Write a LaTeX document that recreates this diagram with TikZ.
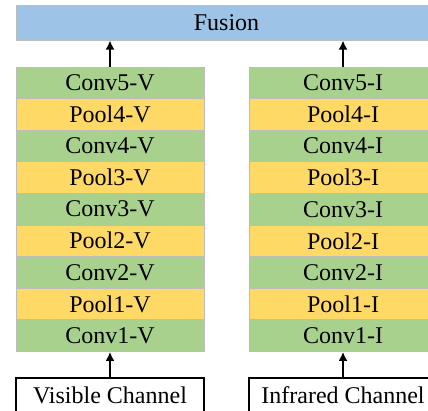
\documentclass[tikz,border=0pt]{standalone}
\usepackage{fontspec}
\setmainfont{Liberation Serif}
\usetikzlibrary{arrows,arrows.meta,shapes}
\definecolor{convgreen}{HTML}{A9D18E}
\definecolor{poolyellow}{HTML}{FFD966}
\definecolor{fuseblue}{HTML}{9DC3E6}
\definecolor{edgegray}{HTML}{BDBDBD}
\tikzstyle{layer}=[rectangle,draw=edgegray,line width=1pt,minimum width=188pt,minimum height=31.6pt,inner sep=0pt,font=\fontsize{24}{26}\selectfont]
\tikzstyle{conv}=[layer,fill=convgreen]
\tikzstyle{pool}=[layer,fill=poolyellow]
\tikzstyle{inbox}=[rectangle,draw=black,line width=1.2pt,fill=white,minimum width=188pt,minimum height=34pt,inner sep=0pt,font=\fontsize{24}{26}\selectfont]
\tikzstyle{dgraph}=[-{Latex[length=9pt,width=9pt]}, line width=1.8pt]

\begin{document}
\begin{tikzpicture}[x=1pt,y=-1pt]
\useasboundingbox (0,0) rectangle (428,410);
\clip (0,0) rectangle (428,410);
\node[layer,fill=fuseblue,minimum width=421pt,minimum height=35pt] (fusion) at (226.5,22.5) {Fusion};
% visible branch
\node[conv] (c5v) at (110,82.8) {Conv5-V};
\node[pool] (p4v) at (110,114.4) {Pool4-V};
\node[conv] (c4v) at (110,146) {Conv4-V};
\node[pool] (p3v) at (110,177.6) {Pool3-V};
\node[conv] (c3v) at (110,209.2) {Conv3-V};
\node[pool] (p2v) at (110,240.8) {Pool2-V};
\node[conv] (c2v) at (110,272.4) {Conv2-V};
\node[pool] (p1v) at (110,304) {Pool1-V};
\node[conv] (c1v) at (110,335.6) {Conv1-V};
\node[inbox] (vis) at (110,395) {Visible Channel};
% infrared branch
\node[conv] (c5i) at (343,82.8) {Conv5-I};
\node[pool] (p4i) at (343,114.4) {Pool4-I};
\node[conv] (c4i) at (343,146) {Conv4-I};
\node[pool] (p3i) at (343,177.6) {Pool3-I};
\node[conv] (c3i) at (343,209.2) {Conv3-I};
\node[pool] (p2i) at (343,240.8) {Pool2-I};
\node[conv] (c2i) at (343,272.4) {Conv2-I};
\node[pool] (p1i) at (343,304) {Pool1-I};
\node[conv] (c1i) at (343,335.6) {Conv1-I};
\node[inbox] (inf) at (343,395) {Infrared Channel};
\draw[dgraph] (vis.north)--(c1v.south);\draw[dgraph] (inf.north)--(c1i.south);
\draw[dgraph] (c5v.north)--(c5v.north |- fusion.south);
\draw[dgraph] (c5i.north)--(c5i.north |- fusion.south);
\end{tikzpicture}
\end{document}
